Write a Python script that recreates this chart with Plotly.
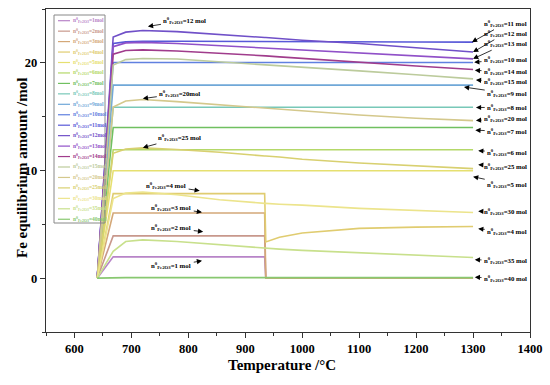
import plotly.graph_objects as go

# ---------------- data ----------------
temps = [640, 668, 690, 720, 780, 855, 934, 936, 960, 1000, 1100, 1200, 1300]

n1 = [0, 1.98, 1.98, 1.98, 1.98, 1.98, 1.98, 0, 0, 0, 0, 0, 0]
n2 = [0, 3.93, 3.93, 3.93, 3.93, 3.93, 3.93, 0, 0, 0, 0, 0, 0]
n3 = [0, 6.05, 6.05, 6.05, 6.05, 6.05, 6.05, 0, 0, 0, 0, 0, 0]
n4 = [0, 7.85, 7.85, 7.85, 7.85, 7.85, 7.85, 3.36, 3.8, 4.2, 4.62, 4.74, 4.80]
n5 = [0, 9.98, 9.98, 9.98, 9.98, 9.98, 9.98, 9.98, 9.98, 9.98, 9.98, 9.98, 9.98]
n6 = [0, 11.93, 11.93, 11.93, 11.93, 11.93, 11.93, 11.93, 11.93, 11.93, 11.93, 11.93, 11.93]
n7 = [0, 14.0, 14.0, 14.0, 14.0, 14.0, 14.0, 14.0, 14.0, 14.0, 14.0, 14.0, 14.0]
n8 = [0, 15.87, 15.87, 15.87, 15.87, 15.87, 15.87, 15.87, 15.87, 15.87, 15.87, 15.87, 15.87]
n9 = [0, 17.93, 17.93, 17.93, 17.93, 17.93, 17.93, 17.93, 17.93, 17.93, 17.93, 17.93, 17.93]
n10 = [0, 20.03, 20.03, 20.03, 20.03, 20.03, 20.03, 20.03, 20.03, 20.03, 20.03, 20.03, 20.03]
n11 = [0, 21.8, 21.95, 22.0, 22.0, 22.0, 21.98, 21.98, 21.97, 21.97, 21.95, 21.93, 21.92]
n12 = [0, 22.4, 22.85, 23.0, 22.9, 22.6, 22.35, 22.35, 22.25, 22.1, 21.8, 21.4, 21.0]
n13 = [0, 21.5, 21.85, 21.9, 21.8, 21.6, 21.4, 21.4, 21.3, 21.2, 20.95, 20.65, 20.37]
n14 = [0, 20.8, 21.15, 21.2, 21.1, 20.9, 20.65, 20.65, 20.55, 20.4, 20.05, 19.7, 19.38]
n15 = [0, 19.8, 20.3, 20.4, 20.35, 20.1, 19.85, 19.85, 19.75, 19.6, 19.25, 18.9, 18.51]
n20 = [0, 15.9, 16.45, 16.6, 16.4, 16.1, 15.8, 15.8, 15.7, 15.55, 15.15, 14.85, 14.63]
n25 = [0, 11.6, 12.0, 12.1, 11.95, 11.7, 11.35, 11.35, 11.25, 11.05, 10.7, 10.42, 10.17]
n30 = [0, 7.4, 7.9, 8.0, 7.75, 7.28, 6.95, 6.95, 6.87, 6.78, 6.48, 6.28, 6.10]
n35 = [0, 2.5, 3.4, 3.56, 3.4, 3.08, 2.78, 2.78, 2.7, 2.58, 2.35, 2.12, 1.92]
n40 = [0, 0.05, 0.05, 0.05, 0.05, 0.05, 0.05, 0.05, 0.05, 0.05, 0.05, 0.05, 0.05]

amounts = [1, 2, 3, 4, 5, 6, 7, 8, 9, 10, 11, 12, 13, 14, 15, 20, 25, 30, 35, 40]
series = [n1, n2, n3, n4, n5, n6, n7, n8, n9, n10, n11, n12, n13, n14, n15,
          n20, n25, n30, n35, n40]
colors = ["#B884C8", "#C8988C", "#D4A878", "#E0CC70", "#E6E070", "#B4D868",
          "#70C060", "#78C8B8", "#70A8D8", "#6080E0", "#5858D8", "#7050C8",
          "#9050C8", "#A03C8C", "#BCCB9C", "#D4C88C", "#D8D070", "#ECE48C",
          "#C8E08C", "#88C870"]

x_ticks = [600, 700, 800, 900, 1000, 1100, 1200, 1300, 1400]
y_ticks = [0, 10, 20]

FONT = "Liberation Serif"

def lab(amount, space=True):
    return "n<sup>0</sup><sub>Fe2O3</sub>=%d%smol" % (amount, " " if space else "")

fig = go.Figure()
for amt, vals, col in zip(amounts, series, colors):
    fig.add_trace(go.Scatter(x=temps, y=vals, mode="lines",
                             line=dict(color=col, width=1.6),
                             name=lab(amt, False), showlegend=False))

# ---------------- annotations with arrows ----------------
# (text, text_x, text_y, head_x, head_y) in data coordinates
right_x = 1357
notes = [
    (lab(11), right_x, 23.68, 1298, 21.92),
    (lab(12), right_x, 22.75, 1300, 21.0),
    (lab(13), right_x, 21.77, 1300, 20.37),
    (lab(10), right_x, 20.28, 1302, 20.06),
    (lab(14), right_x, 19.19, 1303, 19.30),
    (lab(15), right_x, 18.26, 1305, 18.40),
    (lab(9), right_x + 3, 17.17, 1284, 17.75),
    (lab(8), right_x + 3, 15.87, 1305, 15.85),
    (lab(20), right_x, 14.79, 1305, 14.65),
    (lab(7), right_x + 3, 13.61, 1304, 13.75),
    (lab(6), right_x + 3, 11.68, 1309, 11.84),
    (lab(25), right_x, 10.38, 1309, 10.54),
    (lab(5), right_x + 3, 8.74, 1300, 9.42),
    (lab(30), right_x, 6.17, 1309, 6.21),
    (lab(4), right_x + 3, 4.33, 1309, 4.59),
    (lab(35), right_x, 1.61, 1303, 1.72),
    (lab(40), right_x, 0.0, 1303, 0.08),
    (lab(12), 794, 23.93, 729, 23.38),
    (lab(20, False), 785, 17.14, 720, 16.68),
    (lab(25), 784, 13.05, 720, 12.12),
    (lab(4), 761, 8.59, 820, 8.12),
    (lab(3), 770, 6.54, 824, 6.12),
    (lab(2), 770, 4.68, 826, 4.31),
    (lab(1), 770, 1.14, 824, 1.61),
]
annotations = []
for text, tx, ty, hx, hy in notes:
    annotations.append(dict(
        x=hx, y=hy, ax=tx, ay=ty, xref="x", yref="y", axref="x", ayref="y",
        text=text, showarrow=True, arrowhead=2, arrowsize=1.3, arrowwidth=0.8,
        arrowcolor="black", standoff=0, startstandoff=1,
        font=dict(family=FONT, size=6.8, color="black", weight="bold")))

# ---------------- hand-made legend (paper coordinates) ----------------
L, R, T, B = 46, 530, 9, 332
def px(v):
    return (v - L) / (R - L)
def py(v):
    return (B - v) / (B - T)

shapes = [dict(type="rect", xref="paper", yref="paper", x0=px(54), x1=px(105),
               y0=py(223), y1=py(15), line=dict(color="#888888", width=1),
               fillcolor="rgba(0,0,0,0)", layer="above")]
for i, (amt, col) in enumerate(zip(amounts, colors)):
    yc = 20.7 + i * 10.45
    shapes.append(dict(type="line", xref="paper", yref="paper",
                       x0=px(58), x1=px(70), y0=py(yc), y1=py(yc),
                       line=dict(color=col, width=1.2), layer="above"))
    annotations.append(dict(xref="paper", yref="paper", x=px(71), y=py(yc),
                            xanchor="left", yanchor="middle", showarrow=False,
                            text=lab(amt, False),
                            font=dict(family=FONT, size=5.5, color=col, weight="bold")))

# axis titles
annotations.append(dict(xref="paper", yref="paper", x=px(282), y=py(365),
                        xanchor="center", yanchor="middle", showarrow=False,
                        text="Temperature /°C",
                        font=dict(family=FONT, size=15, color="black", weight="bold")))
annotations.append(dict(xref="paper", yref="paper", x=px(22), y=py(168),
                        xanchor="center", yanchor="middle", showarrow=False,
                        textangle=-90, text="Fe equilibrium amount /mol",
                        font=dict(family=FONT, size=15, color="black", weight="bold")))

fig.update_layout(
    width=550, height=385,
    margin=dict(l=L, r=550 - R, t=T, b=385 - B, pad=0, autoexpand=False),
    paper_bgcolor="white", plot_bgcolor="white",
    font=dict(family=FONT, color="black"),
    annotations=annotations, shapes=shapes,
    showlegend=False,
)
fig.update_xaxes(
    range=[550, 1400], tickvals=x_ticks, ticks="outside", ticklen=5, tickwidth=1.2,
    tickcolor="#333", showline=True, linecolor="#333", linewidth=1.4, mirror=True,
    showgrid=False, zeroline=False, automargin=False,
    tickfont=dict(family=FONT, size=12.5, weight="bold"),
    minor=dict(dtick=50, tick0=550, ticks="outside", ticklen=3, tickcolor="#333"),
)
fig.update_yaxes(
    range=[-5, 25], tickvals=y_ticks, ticks="outside", ticklen=5, tickwidth=1.2,
    tickcolor="#333", showline=True, linecolor="#333", linewidth=1.4, mirror=True,
    showgrid=False, zeroline=False, automargin=False,
    tickfont=dict(family=FONT, size=12.5, weight="bold"),
    minor=dict(dtick=5, tick0=0, ticks="outside", ticklen=3, tickcolor="#333"),
)

fig.write_html("out.html", config={"displayModeBar": False},
               post_script="document.body.style.margin='0';document.body.style.padding='0';")
